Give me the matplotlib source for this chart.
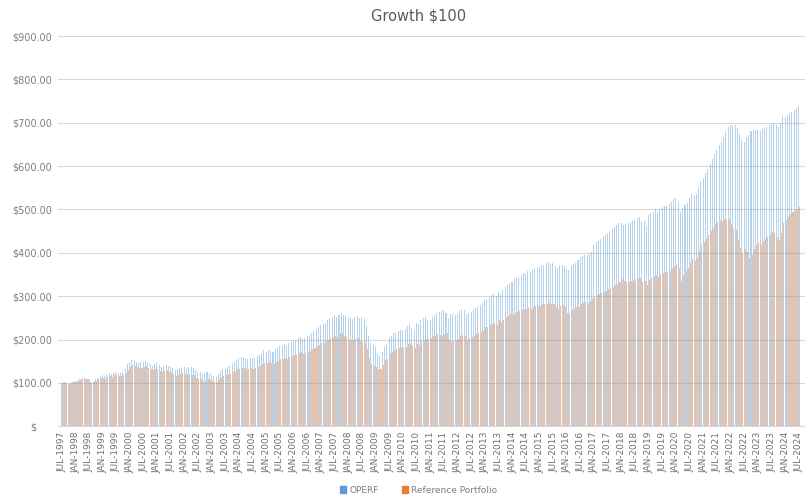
import matplotlib
matplotlib.use("Agg")
import matplotlib.pyplot as plt
from matplotlib.patches import Patch
import numpy as np

# Monthly growth of $100, JUL-1997 .. JUL-2024
operf = [
    100, 103, 100, 98, 100, 102,                                  # 1997 (Jul-Dec)
    104, 107, 110, 111, 112, 111, 110, 103, 105, 108, 112, 115,   # 1998
    117, 115, 118, 122, 120, 123, 124, 123, 122, 126, 132, 143,   # 1999
    147, 152, 151, 148, 146, 147, 148, 150, 146, 143, 140, 143,   # 2000
    145, 141, 137, 140, 142, 139, 138, 135, 129, 131, 135, 137,   # 2001
    136, 135, 137, 136, 134, 130, 125, 125, 120, 122, 124, 122,   # 2002
    119, 116, 114, 120, 127, 131, 133, 136, 138, 143, 147, 152,   # 2003
    157, 159, 158, 154, 155, 157, 156, 158, 161, 164, 169, 175,   # 2004
    172, 176, 174, 172, 177, 180, 185, 186, 189, 186, 191, 195,   # 2005
    197, 199, 203, 206, 201, 203, 208, 211, 214, 219, 224, 229,   # 2006
    233, 235, 239, 245, 250, 252, 256, 253, 257, 262, 256, 254,   # 2007
    252, 250, 247, 252, 254, 249, 251, 248, 232, 208, 192, 187,   # 2008
    183, 170, 162, 172, 183, 188, 203, 208, 214, 216, 220, 223,   # 2009
    222, 225, 232, 236, 227, 224, 237, 235, 244, 250, 252, 245,   # 2010
    245, 253, 256, 262, 264, 266, 268, 262, 250, 258, 258, 257,   # 2011
    260, 266, 270, 268, 258, 262, 264, 268, 272, 275, 279, 284,   # 2012
    291, 293, 298, 302, 305, 301, 310, 306, 314, 321, 325, 329,   # 2013
    333, 340, 342, 344, 349, 354, 353, 359, 356, 360, 364, 365,   # 2014
    367, 373, 372, 376, 378, 375, 377, 370, 364, 372, 373, 369,   # 2015
    362, 361, 369, 374, 377, 384, 390, 393, 395, 394, 398, 403,   # 2016
    418, 424, 428, 433, 438, 441, 446, 450, 455, 459, 464, 468,   # 2017
    469, 465, 466, 469, 472, 474, 476, 480, 482, 472, 474, 462,   # 2018
    487, 492, 495, 500, 494, 502, 506, 507, 509, 512, 518, 524,   # 2019
    527, 520, 494, 503, 510, 516, 527, 536, 533, 536, 553, 566,   # 2020
    573, 584, 594, 606, 616, 627, 637, 648, 655, 668, 680, 690,   # 2021
    695, 692, 696, 688, 675, 662, 656, 668, 672, 680, 685, 684,   # 2022
    683, 680, 686, 689, 690, 694, 697, 699, 694, 690, 700, 716,   # 2023
    714, 718, 722, 726, 730, 734, 738,                            # 2024 (Jan-Jul)
]

reference = [
    100, 102, 99, 97, 99, 101,
    102, 105, 107, 108, 109, 108, 108, 100, 102, 105, 108, 111,
    112, 110, 113, 116, 114, 117, 117, 116, 115, 118, 122, 130,
    136, 141, 139, 136, 134, 135, 136, 138, 134, 131, 129, 131,
    132, 128, 124, 127, 129, 126, 125, 121, 115, 117, 120, 122,
    121, 119, 121, 119, 117, 112, 108, 108, 103, 105, 108, 106,
    104, 102, 103, 108, 113, 116, 118, 120, 121, 125, 128, 131,
    133, 135, 134, 131, 132, 134, 133, 134, 137, 139, 143, 146,
    145, 148, 146, 144, 148, 150, 154, 155, 158, 155, 159, 162,
    164, 165, 168, 171, 167, 168, 171, 174, 177, 181, 185, 188,
    192, 193, 196, 200, 204, 205, 208, 206, 212, 215, 209, 206,
    200, 198, 196, 201, 203, 197, 195, 192, 178, 158, 144, 140,
    136, 129, 131, 142, 152, 156, 168, 172, 176, 178, 181, 183,
    180, 183, 189, 193, 184, 180, 189, 187, 196, 200, 202, 201,
    204, 208, 208, 212, 210, 208, 212, 214, 198, 194, 199, 198,
    202, 208, 210, 209, 200, 204, 206, 209, 213, 215, 217, 221,
    228, 229, 233, 236, 238, 234, 244, 240, 246, 252, 255, 258,
    257, 262, 263, 265, 268, 271, 270, 274, 271, 274, 277, 277,
    278, 282, 281, 283, 284, 281, 283, 276, 270, 277, 279, 275,
    262, 258, 268, 273, 275, 276, 283, 285, 286, 285, 289, 293,
    297, 302, 304, 307, 310, 313, 317, 319, 322, 325, 328, 332,
    340, 334, 332, 333, 335, 336, 339, 341, 342, 333, 335, 325,
    338, 343, 346, 350, 345, 352, 354, 355, 356, 359, 364, 370,
    372, 364, 336, 350, 358, 364, 376, 385, 382, 387, 405, 418,
    424, 432, 440, 450, 457, 466, 472, 476, 474, 478, 476, 479,
    466, 456, 452, 430, 412, 400, 408, 402, 388, 396, 410, 418,
    424, 420, 428, 433, 436, 442, 448, 446, 436, 430, 446, 468,
    476, 483, 490, 494, 497, 500, 506,
]

month_names = ["JAN", "FEB", "MAR", "APR", "MAY", "JUN",
               "JUL", "AUG", "SEP", "OCT", "NOV", "DEC"]
categories = []
for k in range(len(operf)):
    mi = 6 + k
    categories.append(f"{month_names[mi % 12]}-{1997 + mi // 12}")

y_ticks = [0, 100, 200, 300, 400, 500, 600, 700, 800, 900]
y_tick_labels = ["$     "] + [f"${v:.2f}" for v in y_ticks[1:]]

BLUE = "#5B9BD5"
ORANGE = "#ED7D31"
GRAY = "#7f7f7f"

fig = plt.figure(figsize=(8.05, 4.95), dpi=100)
ax = fig.add_axes([0.072, 0.139, 0.928, 0.788])

x = np.arange(len(categories))
w = 0.45
ax.bar(x - w / 2, operf, width=w, color=BLUE, alpha=0.45, label="OPERF",
       linewidth=0, zorder=2)
ax.bar(x + w / 2, reference, width=w, color=ORANGE, alpha=0.5,
       label="Reference Portfolio", linewidth=0, zorder=3)

ax.set_ylim(0, 900)
ax.set_xlim(-1.7, 326.5)
ax.set_yticks(y_ticks)
ax.set_yticklabels(y_tick_labels, fontsize=7, color=GRAY)
tick_pos = x[::6]
ax.set_xticks(tick_pos)
ax.set_xticklabels([categories[i] for i in tick_pos], rotation=90, fontsize=6.5,
                   color="#6f6f6f")
ax.tick_params(axis="both", length=0, pad=4)
ax.grid(axis="y", color="#d9d9d9", linewidth=0.8, zorder=0)
ax.set_axisbelow(True)
for s in ax.spines.values():
    s.set_visible(False)
ax.spines["bottom"].set_visible(True)
ax.spines["bottom"].set_color("#d9d9d9")

fig.text(0.52, 0.968, "Growth \\$100", ha="center", va="center", fontsize=10.5,
         color="#595959")

handles = [Patch(color=BLUE), Patch(color=ORANGE)]
labels = ["OPERF", "Reference Portfolio"]
fig.legend(handles, labels, loc="center", bbox_to_anchor=(0.52, 0.01),
           ncol=2, frameon=False, fontsize=6.5, labelcolor=GRAY,
           handlelength=0.7, handleheight=0.7, columnspacing=2.5, handletextpad=0.4)

fig.savefig("out.png", dpi=100)
